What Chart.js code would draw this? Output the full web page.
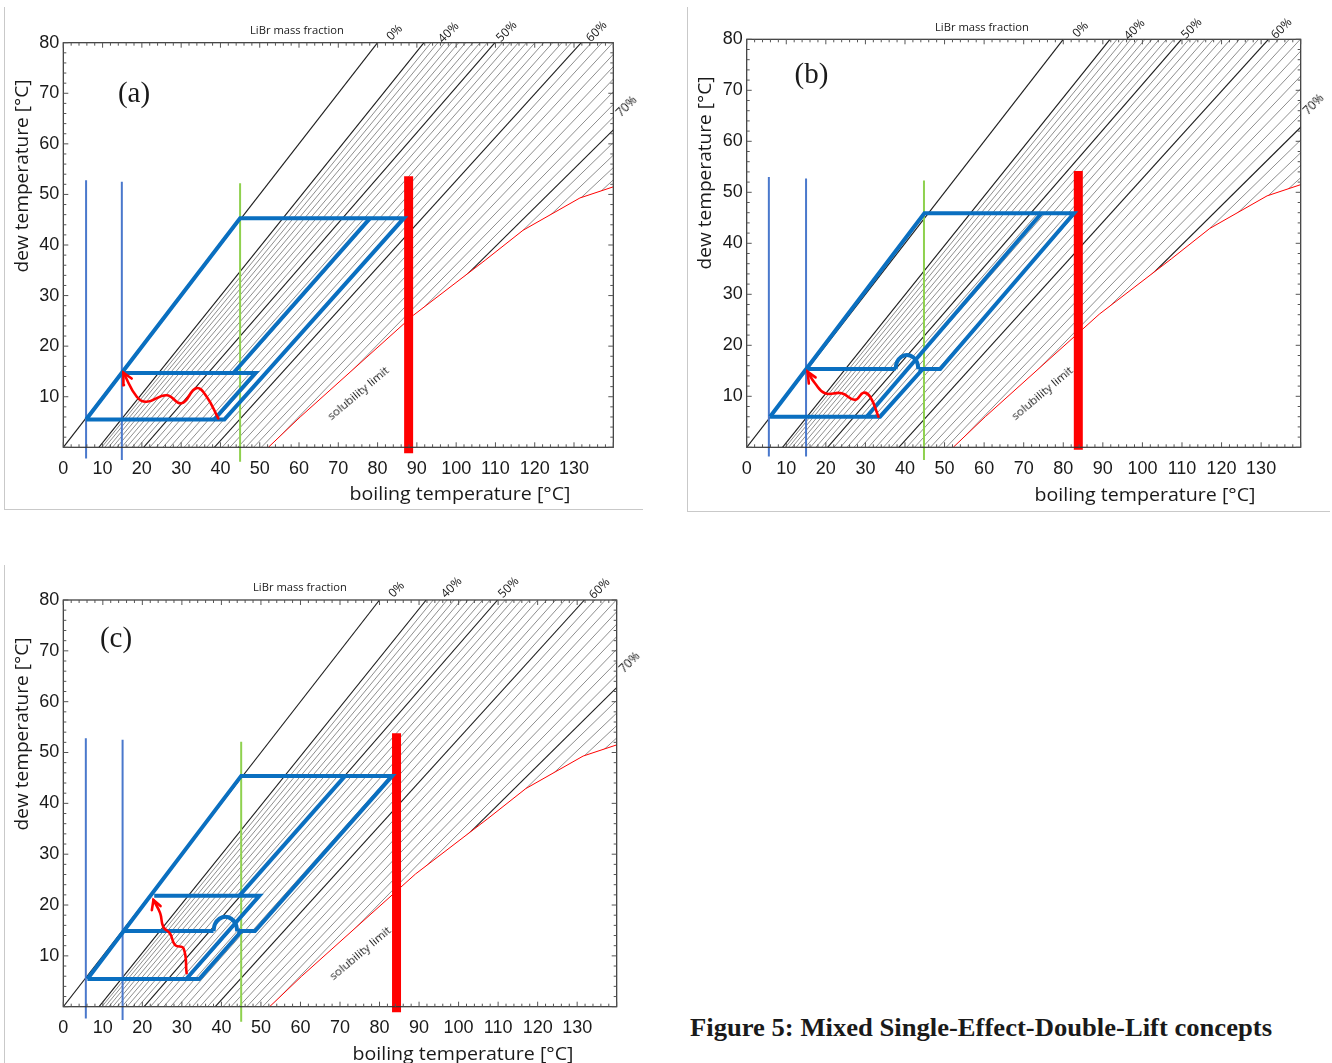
<!DOCTYPE html>
<html><head><meta charset="utf-8">
<script src="https://cdn.jsdelivr.net/npm/chart.js@4.4.1/dist/chart.umd.min.js"></script>
<style>
html,body{margin:0;padding:0;background:#fff;}
body{width:1332px;height:1063px;position:relative;overflow:hidden;}
.cv{position:absolute;}
.t{position:absolute;white-space:nowrap;transform-origin:0 0;line-height:1;color:#1a1a1a;}
.fr{position:absolute;background:#c9c9c9;}
</style></head><body>
<div class="cv" style="left:0px;top:0px;width:643px;height:510px"><canvas id="ca"></canvas></div>
<div class="cv" style="left:687px;top:0px;width:643px;height:511px"><canvas id="cb"></canvas></div>
<div class="cv" style="left:0px;top:560px;width:643px;height:503px"><canvas id="cc"></canvas></div>
<div class="fr" style="left:4px;top:7px;width:1px;height:502px"></div>
<div class="fr" style="left:4px;top:509px;width:639px;height:1px"></div>
<div class="fr" style="left:687px;top:7px;width:1px;height:504px"></div>
<div class="fr" style="left:687px;top:511px;width:643px;height:1px"></div>
<div class="fr" style="left:4px;top:565px;width:1px;height:498px"></div>
<script>
// ---------------- data ----------------
const xTickLabels = [0,10,20,30,40,50,60,70,80,90,100,110,120,130];
const yTickLabels = [10,20,30,40,50,60,70,80];
// pure water line (0 % LiBr)
const waterLineBoil = [0, 80];
const waterLineDew  = [0, 80];
// constant LiBr mass fraction lines: boiling temp at dew 0 °C and at dew 80 °C
const librFraction = [40,41,42,43,44,45,46,47,48,49,50,51,52,53,54,55,56,57,58,59,60,61,62,63,64,65,66,67,68,69,70,71,72,73,74];
const boilAtDew0  = [9.05,9.76,10.57,11.49,12.51,13.62,14.82,16.11,17.48,18.93,20.44,22.02,23.67,25.36,27.12,28.91,30.75,32.63,34.54,36.48,38.44,40.42,42.41,44.41,46.42,48.42,50.42,52.41,54.38,56.34,58.27,60.17,62.04,63.86,65.65];
const boilAtDew80 = [91.81,93.58,95.34,97.10,98.87,100.65,102.44,104.26,106.10,107.97,109.87,111.82,113.80,115.84,117.93,120.07,122.29,124.56,126.91,129.34,131.85,134.44,137.12,139.90,142.78,145.77,148.86,152.08,155.40,158.86,162.44,166.16,170.02,174.00,178.15];
const boldFractions = [40,50,60,70];
// crystallisation (solubility limit)
const solubilityBoil = [52.2,60.3,89.1,107.4,117.0,131.5,140.0];
const solubilityDew  = [0.0,6.0,26.1,37.0,42.9,49.3,51.5];

// panel (a)
const aVerticalBlue = [[5.8,-2.2,52.8],[14.9,-2.5,52.5]];
const aVerticalGreen = [45.0,-2.85,52.2];
const aHeatBar = [87.9,-1.2,53.6];
const aCycle = [
  [[5.8,5.5],[41.0,5.5],[86.7,45.3],[45.0,45.3],[5.8,5.5]],
  [[15.0,14.7],[48.9,14.7],[38.4,5.5]],
  [[78.1,45.3],[43.3,14.7]]
];
const aHumps = [];
const aArrow = [[39.45,5.7],[36.5,10.0],[33.9,11.7],[30.1,8.7],[26.3,10.3],[21.2,9.0],[18.7,10.0],[15.3,14.75]];
const aArrowHead = [[15.45,12.3],[15.3,14.75],[17.4,13.6]];

// panel (b)
const bVerticalBlue = [[5.6,-1.8,53.0],[15.0,-1.8,52.7]];
const bVerticalGreen = [44.8,-2.5,52.3];
const bHeatBar = [83.8,-0.5,54.2];
const bCycle = [
  [[5.9,6.0],[33.7,6.0],[44.5,15.35]],
  [[5.9,6.0],[44.9,45.9],[82.7,45.9],[48.9,15.35],[43.4,15.35]],
  [[37.6,15.35],[15.2,15.35]],
  [[30.3,6.0],[74.5,45.9]]
];
const bHumps = [
  [[43.4,15.35],[43.0,16.73],[41.95,17.73],[40.5,18.1],[39.05,17.73],[38.0,16.73],[37.6,15.35]]
];
const bArrow = [[33.3,6.0],[31.2,9.9],[29.5,10.7],[27.4,9.3],[24.0,10.6],[19.8,10.6],[17.3,12.5],[15.4,14.8]];
const bArrowHead = [[15.7,12.5],[15.4,14.8],[17.4,13.7]];

// panel (c)
const cVerticalBlue = [[5.7,-2.3,52.8],[15.0,-2.6,52.5]];
const cVerticalGreen = [45.0,-2.95,52.1];
const cHeatBar = [84.3,-1.1,53.8];
const cCycle = [
  [[6.1,5.45],[34.4,5.45],[45.1,14.9]],
  [[6.1,5.45],[45.0,45.4],[83.2,45.4],[48.5,14.9],[44.0,14.9]],
  [[38.0,14.9],[15.2,14.9]],
  [[23.0,21.8],[49.6,21.8],[31.1,5.45]],
  [[71.3,45.4],[44.5,21.8]]
];
const cHumps = [
  [[44.0,14.9],[43.6,16.3],[42.5,17.3],[41.0,17.7],[39.5,17.3],[38.4,16.3],[38.0,14.9]]
];
const cArrow = [[31.2,6.6],[30.4,11.5],[28.3,12.1],[27.0,14.4],[25.3,15.7],[24.5,18.4],[22.8,21.0]];
const cArrowHead = [[22.4,19.0],[22.8,21.0],[24.6,19.8]];

// ---------------- helpers ----------------
const pts = arr => arr.map(p => ({x:p[0], y:p[1]}));
const BLUE = '#0a6fc0', VBLUE = '#4a78cc', GREEN = '#8fd14f', RED = '#ff0000';

function buildDatasets(P){
  const ds = [];
  const line = (data, color, width, extra) => Object.assign({data:pts(data), borderColor:color, backgroundColor:color, borderWidth:width, showLine:true, pointRadius:0, pointHoverRadius:0, tension:0, fill:false, borderCapStyle:'butt', borderJoinStyle:'miter'}, extra||{});
  ds.push(line(P.arrow, RED, 2.6, {tension:0.45, clip:false, borderCapStyle:'round'}));
  ds.push(line(P.arrowHead, RED, 2.6, {borderCapStyle:'round'}));
  P.humps.forEach(h => ds.push(line(h, BLUE, 4, {tension:0.5})));
  P.cycle.forEach(c => ds.push(line(c, BLUE, 4)));
  ds.push(line([[P.bar[0],P.bar[1]],[P.bar[0],P.bar[2]]], RED, 9, {clip:false}));
  ds.push(line([[P.green[0],P.green[1]],[P.green[0],P.green[2]]], GREEN, 2, {clip:false}));
  P.blue.forEach(v => ds.push(line([[v[0],v[1]],[v[0],v[2]]], VBLUE, 2, {clip:false})));
  ds.push(line(solubilityBoil.map((b,i)=>[b,solubilityDew[i]]), RED, 1, {fill:'start', backgroundColor:'#ffffff'}));
  librFraction.forEach((f,i) => {
    const bold = boldFractions.includes(f);
    ds.push(line([[boilAtDew0[i],0],[boilAtDew80[i],80]], bold ? '#1e1e1e' : '#7a7a7a', bold ? 1.1 : 0.85));
  });
  ds.push(line(waterLineBoil.map((b,i)=>[b,waterLineDew[i]]), '#1e1e1e', 1.1));
  return ds;
}

const framePlugin = {
  id:'frameTicks',
  afterDatasetsDraw(chart){
    const {ctx, chartArea:a, scales:{x, y}} = chart;
    ctx.save();
    ctx.strokeStyle = '#333'; ctx.lineWidth = 1.2;
    ctx.strokeRect(a.left, a.top, a.right-a.left, a.bottom-a.top);
    ctx.lineWidth = 1; ctx.strokeStyle = '#555';
    ctx.beginPath();
    for (let v=0; v<=140; v+=2){
      const px = x.getPixelForValue(v), L = v%10===0 ? 5 : 3;
      ctx.moveTo(px, a.bottom); ctx.lineTo(px, a.bottom-L);
      ctx.moveTo(px, a.top); ctx.lineTo(px, a.top+L);
    }
    for (let v=0; v<=80; v+=2){
      const py = y.getPixelForValue(v), L = v%10===0 ? 5 : 3;
      ctx.moveTo(a.left, py); ctx.lineTo(a.left+L, py);
      ctx.moveTo(a.right, py); ctx.lineTo(a.right-L, py);
    }
    ctx.stroke();
    ctx.restore();
  }
};

function makeChart(id, P, box, area){
  const yW = area.left - box.left;
  const xH = box.top + box.h - area.bottom;
  new Chart(document.getElementById(id), {
    type:'scatter',
    data:{datasets:buildDatasets(P)},
    options:{
      responsive:true, maintainAspectRatio:false, animation:false, events:[],
      layout:{padding:{left:0, top:area.top-box.top, right:box.left+box.w-area.right, bottom:0}},
      plugins:{legend:{display:false}, tooltip:{enabled:false}},
      scales:{
        x:{type:'linear', min:0, max:140,
           grid:{display:false, drawTicks:false}, border:{display:false},
           ticks:{stepSize:10, autoSkip:false, maxRotation:0, padding:11, color:'#1a1a1a',
                  font:{family:'Liberation Sans', size:18},
                  callback:v => xTickLabels.includes(v) ? String(v) : ''},
           afterFit:s => { s.height = xH; }},
        y:{type:'linear', min:0, max:80,
           grid:{display:false, drawTicks:false}, border:{display:false},
           ticks:{stepSize:10, autoSkip:false, padding:4, color:'#1a1a1a',
                  font:{family:'Liberation Sans', size:18},
                  callback:v => yTickLabels.includes(v) ? String(v) : ''},
           afterFit:s => { s.width = yW; }}
      }
    },
    plugins:[framePlugin]
  });
}

makeChart('ca', {blue:aVerticalBlue, green:aVerticalGreen, bar:aHeatBar, cycle:aCycle, humps:aHumps, arrow:aArrow, arrowHead:aArrowHead},
  {left:0, top:0, w:643, h:510}, {left:63.3, right:613.3, top:42.7, bottom:447.3});
makeChart('cb', {blue:bVerticalBlue, green:bVerticalGreen, bar:bHeatBar, cycle:bCycle, humps:bHumps, arrow:bArrow, arrowHead:bArrowHead},
  {left:687, top:0, w:643, h:511}, {left:746.7, right:1300.7, top:39.3, bottom:447.3});
makeChart('cc', {blue:cVerticalBlue, green:cVerticalGreen, bar:cHeatBar, cycle:cCycle, humps:cHumps, arrow:cArrow, arrowHead:cArrowHead},
  {left:0, top:560, w:643, h:503}, {left:63.3, right:616.7, top:600, bottom:1006.7});

// ---------------- texts ----------------
function place(text, cx, cy, font, rot, width){
  const s = document.createElement('span');
  s.className = 't'; s.textContent = text; s.style.font = font;
  s.style.left = cx + 'px'; s.style.top = cy + 'px';
  document.body.appendChild(s);
  const w = s.getBoundingClientRect().width;
  const k = width ? width / w : 1;
  s.style.transform = 'rotate(' + rot + 'deg) scaleX(' + k + ') translate(-50%,-50%)';
}
const SANS = "'Open Sans', sans-serif", SERIF = "'Liberation Serif', serif";
const panelTexts = [
  {tag:'(a)', tag_xy:[134,92], libr:[297,29], pct:[[393.5,31.5],[447.5,31.7],[505.5,30.7],[595.5,30.7],[626,106]], sol:[357.8,393.3], xt:[459.5,493], yt:[21,176]},
  {tag:'(b)', tag_xy:[811.5,73], libr:[982,26], pct:[[1079.5,29],[1134,29],[1191,28],[1281,28],[1312.5,104]], sol:[1042,393], xt:[1145,494], yt:[704,173]},
  {tag:'(c)', tag_xy:[116,637], libr:[299.5,586], pct:[[396,589],[451,587],[508,587],[599,588],[629,662]], sol:[359.7,953.3], xt:[462.5,1053], yt:[21,733.5]}
];
const pctLabels = ['0%','40%','50%','60%','70%'];
panelTexts.forEach(T => {
  place(T.tag, T.tag_xy[0], T.tag_xy[1], '29px ' + SERIF, 0);
  place('LiBr mass fraction', T.libr[0], T.libr[1], '11px ' + SANS, 0, 94);
  T.pct.forEach((p,i) => place(pctLabels[i], p[0], p[1], '12px ' + SANS, -45));
  place('solubility limit', T.sol[0], T.sol[1], '10.5px ' + SANS, -40, 76);
  place('boiling temperature  [°C]', T.xt[0], T.xt[1], '18px ' + SANS, 0, 221);
  place('dew temperature [°C]', T.yt[0], T.yt[1], '18px ' + SANS, -90, 193);
});
place('Figure 5: Mixed Single-Effect-Double-Lift concepts', 981, 1028, 'bold 25px ' + SERIF, 0, 582);
</script>
</body></html>
